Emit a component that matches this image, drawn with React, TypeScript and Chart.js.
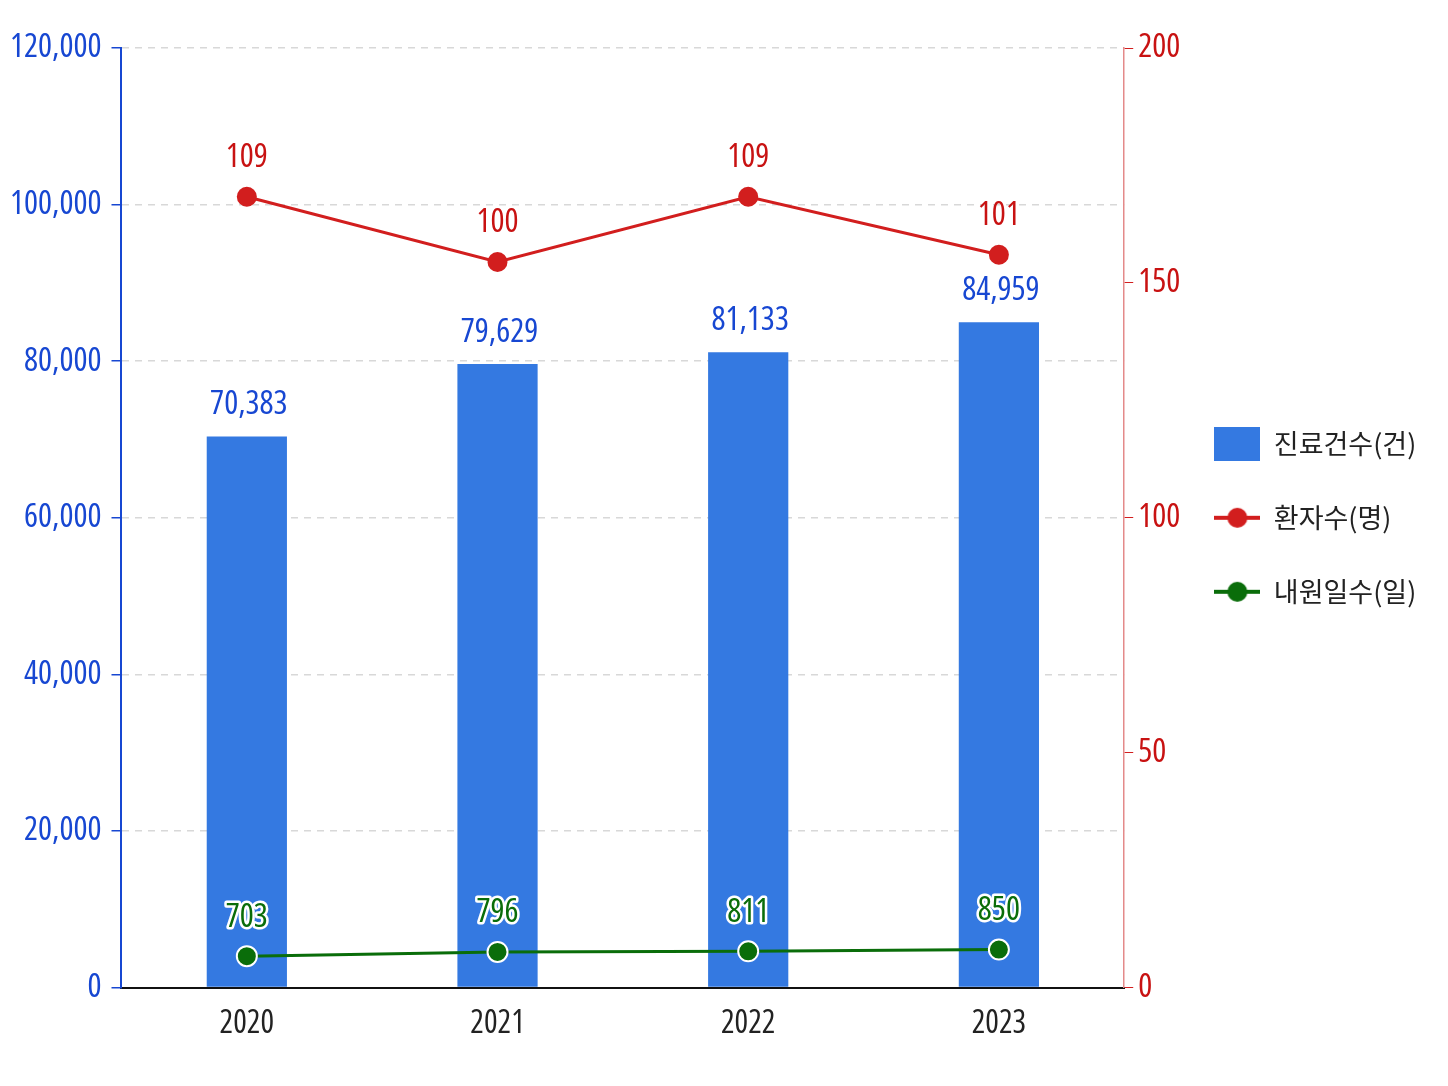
import React, { useEffect, useRef } from 'react';
import { Chart, registerables } from 'chart.js';

Chart.register(...registerables);

const years = ['2020', '2021', '2022', '2023'];
const visits = [70383, 79629, 81133, 84959]; // 진료건수(건)
const patients = [109, 100, 109, 101]; // 환자수(명)
const days = [703, 796, 811, 850]; // 내원일수(일)

const leftTicks = [0, 20000, 40000, 60000, 80000, 100000, 120000];
const rightTicks = [0, 50, 100, 150, 200];

// Open Sans is variable here, so "condensed" gives the narrow cut
const NUM_FAMILY = "'Open Sans', 'Noto Sans', sans-serif";
const NUM_STRETCH = 'condensed';
const KR_FONT = "'Noto Sans CJK KR', 'Noto Sans', sans-serif";

const BLUE_BAR = '#3479e1';
const BLUE_TEXT = '#1747d2';
const RED = '#d21e1e';
const RED_TEXT = '#c81212';
const GREEN = '#0a6d0a';

function legendIcon(kind: 'bar' | 'line', color: string): HTMLCanvasElement {
  const c = document.createElement('canvas');
  c.width = 46;
  c.height = 34;
  const ctx = c.getContext('2d')!;
  if (kind === 'bar') {
    ctx.fillStyle = color;
    ctx.fillRect(0, 0, 46, 34);
  } else {
    ctx.strokeStyle = color;
    ctx.lineWidth = 4;
    ctx.beginPath();
    ctx.moveTo(0, 17);
    ctx.lineTo(46, 17);
    ctx.stroke();
    ctx.fillStyle = color;
    ctx.beginPath();
    ctx.arc(23, 17, 10, 0, Math.PI * 2);
    ctx.fill();
  }
  return c;
}

const valueLabels = {
  id: 'valueLabels',
  afterDatasetsDraw(chart: any) {
    const ctx = chart.ctx;
    ctx.save();
    ctx.font = `${NUM_STRETCH} 33px ${NUM_FAMILY}`;
    ctx.textAlign = 'center';
    ctx.textBaseline = 'middle';
    chart.data.datasets.forEach((ds: any, i: number) => {
      const meta = chart.getDatasetMeta(i);
      meta.data.forEach((el: any, j: number) => {
        const text = ds.data[j].toLocaleString('en-US');
        if (i === 0) {
          ctx.fillStyle = BLUE_TEXT;
          ctx.fillText(text, el.x + 2, el.y - 32);
        } else if (i === 1) {
          ctx.fillStyle = RED_TEXT;
          ctx.fillText(text, el.x, el.y - 39);
        } else {
          ctx.lineWidth = 5;
          ctx.lineJoin = 'round';
          ctx.strokeStyle = '#ffffff';
          ctx.strokeText(text, el.x, el.y - 39);
          ctx.fillStyle = GREEN;
          ctx.fillText(text, el.x, el.y - 39);
        }
      });
    });
    ctx.restore();
  },
};

// pull the legend a little closer to the right axis (and widen its clip box)
const legendShift = {
  id: 'legendShift',
  afterLayout(chart: any) {
    if (chart.legend) {
      chart.legend.left -= 18;
      chart.legend.right += 20;
      chart.legend.width = chart.legend.right - chart.legend.left;
    }
  },
};

const App: React.FC = () => {
  const chartRef = useRef<HTMLCanvasElement>(null);

  useEffect(() => {
    if (!chartRef.current) return;
    const icons = [
      legendIcon('bar', BLUE_BAR),
      legendIcon('line', RED),
      legendIcon('line', GREEN),
    ];
    const numFont = (size: number) => ({ family: NUM_FAMILY, size, weight: NUM_STRETCH as any });

    const chartInstance = new Chart(chartRef.current, {
      type: 'bar',
      data: {
        labels: years,
        datasets: [
          {
            type: 'bar',
            label: '진료건수(건)',
            data: visits,
            backgroundColor: BLUE_BAR,
            yAxisID: 'y',
            barPercentage: 0.32,
            categoryPercentage: 1,
            order: 2,
          },
          {
            type: 'line',
            label: '환자수(명)',
            data: patients,
            borderColor: RED,
            backgroundColor: RED,
            borderWidth: 3,
            pointRadius: 10,
            pointBorderWidth: 0,
            tension: 0,
            yAxisID: 'yPatients',
            order: 1,
          },
          {
            type: 'line',
            label: '내원일수(일)',
            data: days,
            borderColor: GREEN,
            backgroundColor: GREEN,
            borderWidth: 3,
            pointRadius: 10,
            pointBorderColor: '#ffffff',
            pointBorderWidth: 2,
            tension: 0,
            yAxisID: 'yDays',
            order: 0,
          },
        ] as any,
      },
      options: {
        animation: false,
        responsive: true,
        maintainAspectRatio: false,
        layout: { padding: { top: 40, left: 4, right: 20, bottom: 18 } },
        scales: {
          x: {
            offset: true,
            grid: { display: true, drawOnChartArea: false, drawTicks: false },
            border: { color: '#111111', width: 2 },
            ticks: { color: '#222222', font: numFont(32), padding: 17 },
          },
          y: {
            position: 'left',
            min: 0,
            max: 120000,
            afterBuildTicks: (axis: any) => {
              axis.ticks = leftTicks.map((v) => ({ value: v }));
            },
            afterFit: (axis: any) => {
              axis.width -= 12;
            },
            ticks: {
              color: BLUE_TEXT,
              font: numFont(33),
              padding: 10,
              callback: (v: any) => Number(v).toLocaleString('en-US'),
            },
            grid: { color: '#d8d8d8', lineWidth: 1.5, tickColor: BLUE_TEXT, tickLength: 10 },
            border: { color: BLUE_TEXT, width: 2, dash: [7, 6] },
          },
          y1: {
            position: 'right',
            min: 0,
            max: 200,
            afterBuildTicks: (axis: any) => {
              axis.ticks = rightTicks.map((v) => ({ value: v }));
            },
            ticks: { color: RED_TEXT, font: numFont(33), padding: 5 },
            grid: { drawOnChartArea: false, tickColor: RED, tickLength: 9 },
            border: { color: '#e48a8a', width: 1.5 },
          },
          yPatients: { display: false, min: 0, max: 129.5 },
          yDays: { display: false, min: 0, max: 21000 },
        },
        plugins: {
          tooltip: { enabled: false },
          legend: {
            position: 'right',
            fullSize: false,
            labels: {
              usePointStyle: true,
              pointStyleWidth: 46,
              padding: 47,
              color: '#222222',
              font: { family: KR_FONT, size: 27 },
              generateLabels: (chart: any) =>
                chart.data.datasets.map((ds: any, i: number) => ({
                  text: ds.label,
                  pointStyle: icons[i],
                  fillStyle: 'transparent',
                  strokeStyle: 'transparent',
                  lineWidth: 0,
                  hidden: false,
                  datasetIndex: i,
                  fontColor: '#222222',
                })),
            },
          },
        },
      },
      plugins: [valueLabels, legendShift],
    });

    return () => {
      chartInstance.destroy();
    };
  }, []);

  return (
    <div style={{ width: '1432px', height: '1070px' }}>
      <canvas ref={chartRef} />
    </div>
  );
};

export default App;
